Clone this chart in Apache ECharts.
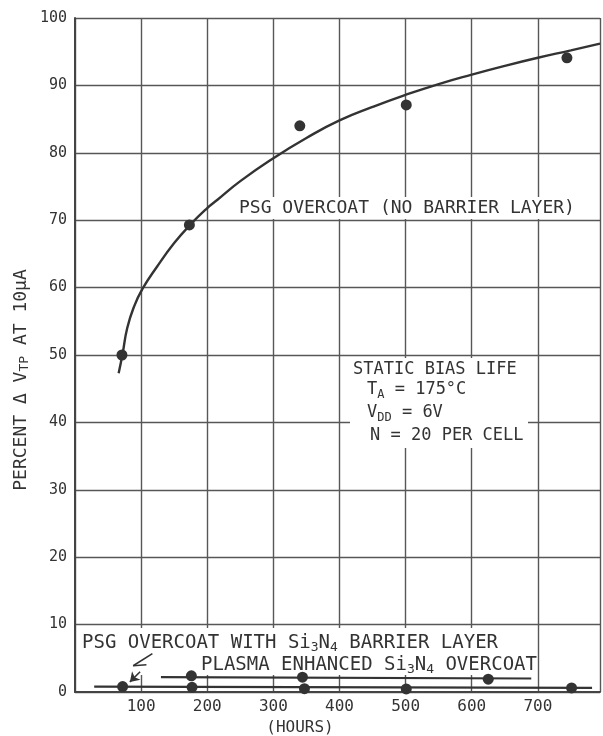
<!DOCTYPE html>
<html>
<head>
<meta charset="utf-8">
<script src="https://cdn.jsdelivr.net/npm/echarts@6/dist/echarts.min.js"></script>
<style>
  html, body { margin: 0; padding: 0; background: #fff; }
  #chart { width: 603px; height: 736px; }
</style>
</head>
<body>
<div id="chart"></div>
<script>
// Threshold shift vs. static bias life time
const hourTicks = [100, 200, 300, 400, 500, 600, 700];

// PSG overcoat, no barrier layer: measured points
const psgHours = [71, 173, 340, 501, 744];
const psgValue = [50, 69.3, 84, 87.1, 94.1];

// PSG overcoat, no barrier layer: hand-drawn trend curve
const psgCurveHours = [66, 72, 79, 89, 102, 124, 150, 174, 200, 215, 250, 300, 350, 400, 450, 500, 550, 600, 650, 700, 750, 794];
const psgCurveValue = [47.3, 50.2, 54.0, 57.1, 59.8, 63.1, 66.6, 69.3, 71.8, 73.0, 75.8, 79.2, 82.2, 84.8, 86.8, 88.6, 90.2, 91.6, 92.9, 94.1, 95.2, 96.2];

// PSG overcoat with Si3N4 barrier layer
const barrierHours = [72, 177, 347, 501, 751];
const barrierValue = [0.8, 0.7, 0.5, 0.45, 0.6];
const barrierLineHours = [29, 782];
const barrierLineValue = [0.8, 0.6];

// Plasma enhanced Si3N4 overcoat
const plasmaHours = [176, 344, 625];
const plasmaValue = [2.4, 2.2, 1.9];
const plasmaLineHours = [130, 690];
const plasmaLineValue = [2.2, 2.0];

// Pointer from the barrier-layer caption to its first point
const pointerHours = [117, 88, 108, 98.5, 83];
const pointerValue = [5.7, 3.9, 4.05, 3.0, 1.5];

const ink = '#333';
const gridInk = '#575757';
const FONT = '"DejaVu Sans Mono", monospace';

const zip = (xs, ys) => xs.map((x, i) => [x, ys[i]]);

const subRich = {
  n: { fontFamily: FONT, fontSize: 17, fill: ink },
  s: { fontFamily: FONT, fontSize: 12, fill: ink, padding: [10, 0, 0, 0] }
};
const subRichLarge = {
  n: { fontFamily: FONT, fontSize: 19, fill: ink },
  s: { fontFamily: FONT, fontSize: 13, fill: ink, padding: [10, 0, 0, 0] }
};

const chart = echarts.init(document.getElementById('chart'), null, { renderer: 'canvas' });

chart.setOption({
  animation: false,
  backgroundColor: '#fff',
  grid: { left: 75, right: 0, top: 18, bottom: 44 },
  xAxis: {
    type: 'value',
    min: 0,
    max: 794,
    interval: 100,
    axisLine: { show: true, lineStyle: { color: '#444', width: 2 } },
    axisTick: { show: false },
    splitLine: { show: true, lineStyle: { color: gridInk, width: 1.4 } },
    axisLabel: {
      margin: 7,
      fontFamily: FONT,
      fontSize: 16,
      color: ink,
      formatter: v => (hourTicks.indexOf(v) >= 0 ? String(v) : '')
    }
  },
  yAxis: {
    type: 'value',
    min: 0,
    max: 100,
    interval: 10,
    axisLine: { show: true, lineStyle: { color: '#444', width: 2 } },
    axisTick: { show: false },
    splitLine: { show: true, lineStyle: { color: gridInk, width: 1.4 } },
    axisLabel: { margin: 8, fontFamily: FONT, fontSize: 15, color: ink }
  },
  graphic: [
    // paper showing through behind the captions
    { type: 'rect', z: 1, shape: { x: 77, y: 628, width: 459, height: 47 }, style: { fill: '#fff' } },
    { type: 'rect', z: 1, shape: { x: 350, y: 358, width: 178, height: 90 }, style: { fill: '#fff' } },
    {
      type: 'text', z: 5, x: 236, y: 208,
      style: {
        text: 'PSG OVERCOAT (NO BARRIER LAYER)', fontFamily: FONT, fontSize: 18, fill: ink,
        verticalAlign: 'middle', backgroundColor: '#fff', padding: [2, 3]
      }
    },
    {
      type: 'text', z: 5, x: 353, y: 370,
      style: { text: 'STATIC BIAS LIFE', fontFamily: FONT, fontSize: 17, fill: ink, verticalAlign: 'middle' }
    },
    {
      type: 'text', z: 5, x: 367, y: 390,
      style: { text: '{n|T}{s|A}{n| = 175°C}', rich: subRich, verticalAlign: 'middle' }
    },
    {
      type: 'text', z: 5, x: 367, y: 413,
      style: { text: '{n|V}{s|DD}{n| = 6V}', rich: subRich, verticalAlign: 'middle' }
    },
    {
      type: 'text', z: 5, x: 370, y: 436,
      style: { text: 'N = 20 PER CELL', fontFamily: FONT, fontSize: 17, fill: ink, verticalAlign: 'middle' }
    },
    {
      type: 'text', z: 5, x: 82, y: 643,
      style: { text: '{n|PSG OVERCOAT WITH Si}{s|3}{n|N}{s|4}{n| BARRIER LAYER}', rich: subRichLarge, verticalAlign: 'middle' }
    },
    {
      type: 'text', z: 5, x: 201, y: 665,
      style: { text: '{n|PLASMA ENHANCED Si}{s|3}{n|N}{s|4}{n| OVERCOAT}', rich: subRichLarge, verticalAlign: 'middle' }
    },
    {
      type: 'text', z: 5, x: 300, y: 728,
      style: { text: '(HOURS)', fontFamily: FONT, fontSize: 16, fill: ink, align: 'center', verticalAlign: 'middle' }
    },
    {
      type: 'text', z: 5, x: 21, y: 380, rotation: Math.PI / 2,
      style: {
        text: '{n|PERCENT Δ V}{s|TP}{n| AT 10μA}',
        rich: {
          n: { fontFamily: FONT, fontSize: 18, fill: ink },
          s: { fontFamily: FONT, fontSize: 13, fill: ink, padding: [8, 0, 0, 0] }
        },
        align: 'center', verticalAlign: 'middle'
      }
    }
  ],
  series: [
    {
      name: 'PSG curve',
      type: 'line',
      z: 3,
      smooth: 0.5,
      showSymbol: false,
      lineStyle: { color: ink, width: 2.4 },
      data: zip(psgCurveHours, psgCurveValue)
    },
    {
      name: 'PSG points',
      type: 'scatter',
      z: 4,
      symbolSize: 11,
      itemStyle: { color: ink, opacity: 1 },
      data: zip(psgHours, psgValue)
    },
    {
      name: 'Barrier line',
      type: 'line',
      z: 3,
      showSymbol: false,
      lineStyle: { color: ink, width: 2.2 },
      data: zip(barrierLineHours, barrierLineValue),
      markLine: {
        silent: true,
        symbol: ['none', 'none'],
        label: { show: false },
        lineStyle: { color: ink, width: 1.6, type: 'solid' },
        data: [
          [{ coord: [pointerHours[0], pointerValue[0]] }, { coord: [pointerHours[1], pointerValue[1]] }],
          [{ coord: [pointerHours[1], pointerValue[1]] }, { coord: [pointerHours[2], pointerValue[2]] }],
          [{ coord: [pointerHours[3], pointerValue[3]], symbol: 'none' }, { coord: [pointerHours[4], pointerValue[4]], symbol: 'arrow', symbolSize: 9 }]
        ]
      }
    },
    {
      name: 'Barrier points',
      type: 'scatter',
      z: 4,
      symbolSize: 11,
      itemStyle: { color: ink, opacity: 1 },
      data: zip(barrierHours, barrierValue)
    },
    {
      name: 'Plasma line',
      type: 'line',
      z: 3,
      showSymbol: false,
      lineStyle: { color: ink, width: 2.2 },
      data: zip(plasmaLineHours, plasmaLineValue)
    },
    {
      name: 'Plasma points',
      type: 'scatter',
      z: 4,
      symbolSize: 11,
      itemStyle: { color: ink, opacity: 1 },
      data: zip(plasmaHours, plasmaValue)
    }
  ]
});
</script>
</body>
</html>
